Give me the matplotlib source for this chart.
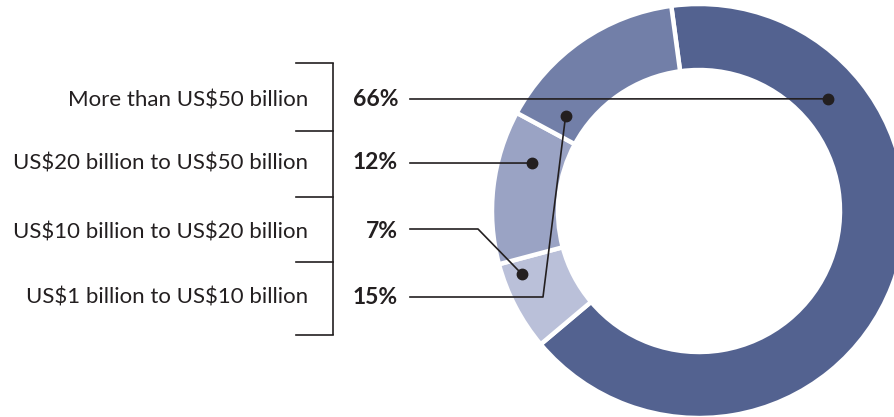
import matplotlib.pyplot as plt
import numpy as np

# size bands, in the order they are listed on the left
categories = ['More than US$50 billion', 'US$20 billion to US$50 billion',
              'US$10 billion to US$20 billion', 'US$1 billion to US$10 billion']
shares = [66, 12, 7, 15]

# order of the wedges going clockwise from the top
ring_order = [0, 2, 1, 3]
ring_colors = {0: '#536290', 1: '#9aa3c4', 2: '#bac0d9', 3: '#727fa8'}

W, H = 894, 417
plt.rcParams['font.family'] = ['Lato', 'DejaVu Sans']
plt.rcParams['text.parse_math'] = False
ink = '#231f20'

fig = plt.figure(figsize=(W / 100, H / 100), dpi=100)
ax = fig.add_axes([0, 0, 1, 1])

cx, cy = 699, H - 211
r_out, r_in = 207, 141

ax.pie([shares[i] for i in ring_order],
       colors=[ring_colors[i] for i in ring_order],
       startangle=97.7, counterclock=False,
       radius=r_out, center=(cx, cy),
       wedgeprops=dict(width=r_out - r_in, edgecolor='white', linewidth=3.2))

ax.set_xlim(0, W)
ax.set_ylim(0, H)
ax.set_aspect('equal')
ax.axis('off')

def px(y):
    return H - y

# bracket grouping the labels
bx = 333
ticks_y = [63, 131, 197, 262, 335]
ax.plot([bx, bx], [px(ticks_y[0]), px(ticks_y[-1])], color=ink, lw=1.2,
        solid_capstyle='butt')
for ty in ticks_y:
    ax.plot([296, bx], [px(ty), px(ty)], color=ink, lw=1.2)

row_y = [99, 163, 229, 297]
base_y = [106, 169, 238, 304]
# where each leader ends on the ring: angle (deg) and radius
dot_polar = [(41, 171), (164, 174), (199.6, 188), (144.4, 164)]

for i, (label, val) in enumerate(zip(categories, shares)):
    y = px(row_y[i])
    ax.text(308, px(base_y[i]), label, ha='right', va='baseline',
            fontsize=16, color=ink)
    ax.text(398, px(base_y[i]), f'{val}%', ha='right', va='baseline',
            fontsize=16.5, fontweight='bold', color=ink)

    ang, rr = dot_polar[i]
    dx = cx + rr * np.cos(np.radians(ang))
    dy = cy + rr * np.sin(np.radians(ang))
    if i == 2:
        xs, ys = [410, 478, dx], [y, y, dy]
    elif i == 3:
        xs, ys = [410, 543, dx], [y, y, dy]
    else:
        xs, ys = [410, dx], [y, dy]
    ax.plot(xs, ys, color=ink, lw=1.2)
    ax.plot(dx, dy, 'o', color=ink, ms=7.5)

fig.savefig('out.png', dpi=100)
